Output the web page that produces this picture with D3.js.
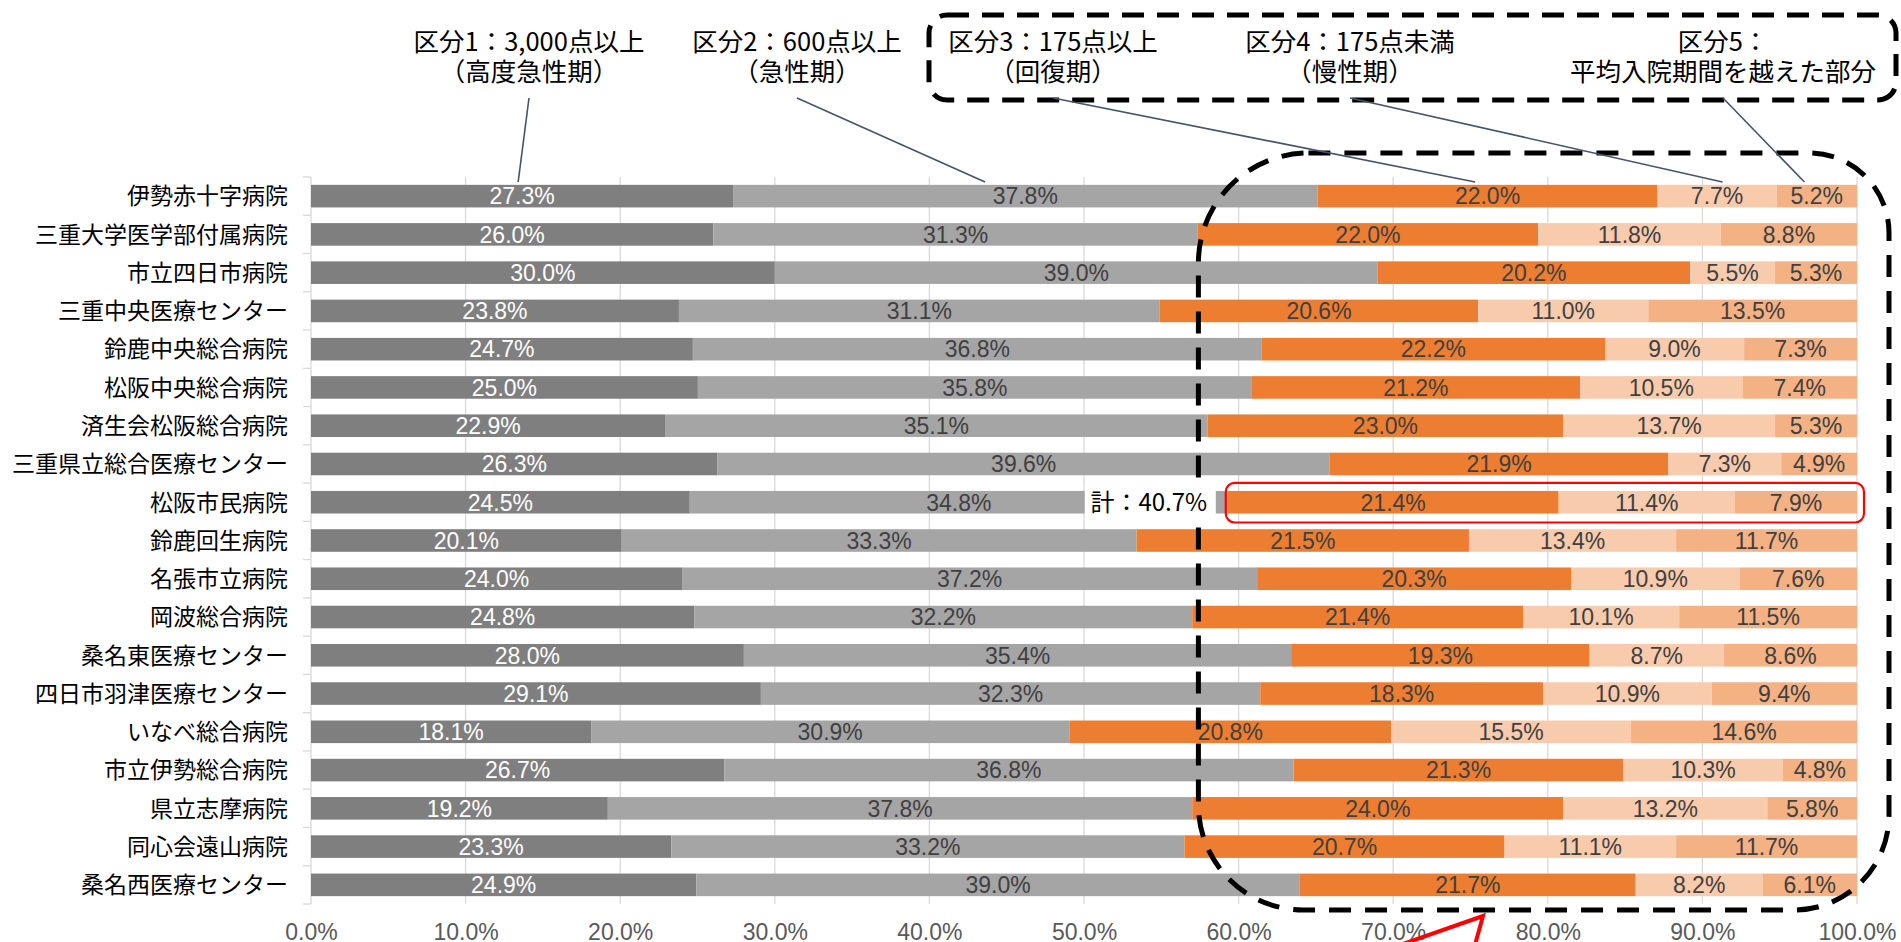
<!DOCTYPE html>
<html>
<head>
  <meta charset="utf-8">
  <title>病床機能別 患者構成</title>
  <script src="https://d3js.org/d3.v7.min.js"></script>
  <style>
    body { margin: 0; background: #fff; }
    .cjk { font-family: "Noto Sans CJK JP", sans-serif; }
    .num { font-family: "Liberation Sans", Arial, sans-serif; }
  </style>
</head>
<body>
  <svg width="1901" height="942" id="mainsvg"></svg>
  <script>
    // 病院名（上から順）
    const hospitals = [
      "伊勢赤十字病院", "三重大学医学部付属病院", "市立四日市病院", "三重中央医療センター",
      "鈴鹿中央総合病院", "松阪中央総合病院", "済生会松阪総合病院", "三重県立総合医療センター",
      "松阪市民病院", "鈴鹿回生病院", "名張市立病院", "岡波総合病院", "桑名東医療センター",
      "四日市羽津医療センター", "いなべ総合病院", "市立伊勢総合病院", "県立志摩病院",
      "同心会遠山病院", "桑名西医療センター"
    ];
    // 区分ごとの割合（%）
    const kubun1 = [27.3, 26.0, 30.0, 23.8, 24.7, 25.0, 22.9, 26.3, 24.5, 20.1, 24.0, 24.8, 28.0, 29.1, 18.1, 26.7, 19.2, 23.3, 24.9];
    const kubun2 = [37.8, 31.3, 39.0, 31.1, 36.8, 35.8, 35.1, 39.6, 34.8, 33.3, 37.2, 32.2, 35.4, 32.3, 30.9, 36.8, 37.8, 33.2, 39.0];
    const kubun3 = [22.0, 22.0, 20.2, 20.6, 22.2, 21.2, 23.0, 21.9, 21.4, 21.5, 20.3, 21.4, 19.3, 18.3, 20.8, 21.3, 24.0, 20.7, 21.7];
    const kubun4 = [7.7, 11.8, 5.5, 11.0, 9.0, 10.5, 13.7, 7.3, 11.4, 13.4, 10.9, 10.1, 8.7, 10.9, 15.5, 10.3, 13.2, 11.1, 8.2];
    const kubun5 = [5.2, 8.8, 5.3, 13.5, 7.3, 7.4, 5.3, 4.9, 7.9, 11.7, 7.6, 11.5, 8.6, 9.4, 14.6, 4.8, 5.8, 11.7, 6.1];

    // 凡例（吹き出し）の文言
    const legendLines = [
      ["区分1：3,000点以上", "（高度急性期）"],
      ["区分2：600点以上", "（急性期）"],
      ["区分3：175点以上", "（回復期）"],
      ["区分4：175点未満", "（慢性期）"],
      ["区分5：", "平均入院期間を越えた部分"]
    ];
    const legendX = [529, 797, 1053, 1350, 1723];      // 吹き出し文字の中心
    const leaderTarget = [0.134, 0.436, 0.753, 0.913, 0.966]; // 引き出し線の先（割合）

    const keys = ["k1", "k2", "k3", "k4", "k5"];
    const colors = ["#7f7f7f", "#a5a5a5", "#ed7d31", "#f8cbad", "#f4b183"];
    const highlightRow = "松阪市民病院";

    const table = hospitals.map((h, i) => ({
      name: h, k1: kubun1[i], k2: kubun2[i], k3: kubun3[i], k4: kubun4[i], k5: kubun5[i]
    }));

    let svg = d3.select('#mainsvg');

    const x = d3.scaleLinear().domain([0, 1]).range([311, 1857]);
    const y = d3.scaleBand().domain(hospitals).range([177, 904])
      .paddingInner(0.41).paddingOuter(0.205);

    const stack = d3.stack().keys(keys).offset(d3.stackOffsetExpand);
    const series = stack(table);

    // 目盛線
    svg.append('g').selectAll('line')
      .data(d3.range(1, 11).map(d => d / 10))
      .enter().append('line')
      .attr('x1', d => x(d)).attr('x2', d => x(d))
      .attr('y1', 177).attr('y2', 904)
      .attr('stroke', '#d9d9d9').attr('stroke-width', 1.3);

    // 縦軸と目盛
    const yAxis = svg.append('g');
    yAxis.append('line')
      .attr('x1', x(0)).attr('x2', x(0)).attr('y1', 177).attr('y2', 904)
      .attr('stroke', '#d9d9d9').attr('stroke-width', 1.3);
    yAxis.selectAll('line.tick')
      .data(d3.range(hospitals.length + 1))
      .enter().append('line').attr('class', 'tick')
      .attr('x1', x(0) - 8).attr('x2', x(0))
      .attr('y1', i => 177 + i * y.step()).attr('y2', i => 177 + i * y.step())
      .attr('stroke', '#d9d9d9').attr('stroke-width', 1.3);
    yAxis.selectAll('text')
      .data(hospitals)
      .enter().append('text').attr('class', 'cjk')
      .attr('x', 288)
      .attr('y', d => y(d) + y.bandwidth() / 2 + 23 * 0.36)
      .attr('text-anchor', 'end')
      .attr('font-size', 23)
      .attr('fill', '#000')
      .text(d => d);

    // 横軸ラベル
    const xAxis = svg.append('g')
      .attr('transform', 'translate(0,904)')
      .call(d3.axisBottom(x).tickValues(d3.range(0, 11).map(d => d / 10))
        .tickFormat(d3.format('.1%')).tickSize(0));
    xAxis.select('.domain').remove();
    xAxis.selectAll('text')
      .attr('class', 'num')
      .attr('y', 36).attr('dy', null)
      .attr('font-size', 23)
      .attr('fill', '#595959');

    // 積み上げ棒
    const groups = svg.append('g').selectAll('g')
      .data(series)
      .enter().append('g')
      .attr('fill', (d, i) => colors[i]);
    groups.selectAll('rect')
      .data(d => d)
      .enter().append('rect')
      .attr('x', d => x(d[0]))
      .attr('width', d => x(d[1]) - x(d[0]))
      .attr('y', d => y(d.data.name))
      .attr('height', y.bandwidth());

    // 数値ラベル
    series.forEach((s, si) => {
      svg.append('g').selectAll('text')
        .data(s)
        .enter().append('text').attr('class', 'num')
        .attr('x', d => (x(d[0]) + x(d[1])) / 2)
        .attr('y', d => y(d.data.name) + y.bandwidth() / 2 + 23 * 0.36)
        .attr('text-anchor', 'middle')
        .attr('font-size', 23)
        .attr('fill', si === 0 ? '#ffffff' : '#404040')
        .text(d => d.data[s.key].toFixed(1) + '%');
    });

    // 大きな点線の囲み（区分3〜5）
    function roundedPath(l, t, r, b, tl, tr, br, bl) {
      return `M${l + tl},${t} H${r - tr} A${tr},${tr} 0 0 1 ${r},${t + tr}` +
        ` V${b - br} A${br},${br} 0 0 1 ${r - br},${b}` +
        ` H${l + bl} A${bl},${bl} 0 0 1 ${l},${b - bl}` +
        ` V${t + tl} A${tl},${tl} 0 0 1 ${l + tl},${t} Z`;
    }
    svg.append('path')
      .attr('d', roundedPath(x(0.574), 153, 1889, 910, 110, 80, 95, 105))
      .attr('fill', 'none')
      .attr('stroke', '#000')
      .attr('stroke-width', 5)
      .attr('stroke-dasharray', '22,14');

    // 松阪市民病院の強調枠
    const hi = table.findIndex(d => d.name === highlightRow);
    const cum2 = series[1][hi][1];
    svg.append('rect')
      .attr('x', x(cum2) - 2)
      .attr('y', y(highlightRow) - 8)
      .attr('width', x(1) + 7 - (x(cum2) - 2))
      .attr('height', y.bandwidth() + 17)
      .attr('rx', 9)
      .attr('fill', 'none')
      .attr('stroke', '#ff0000')
      .attr('stroke-width', 2.2);

    // 計ラベル
    const total = kubun3[hi] + kubun4[hi] + kubun5[hi];
    svg.append('rect')
      .attr('x', x(cum2) - 143)
      .attr('y', y(highlightRow) - 6)
      .attr('width', 131)
      .attr('height', y.bandwidth() + 12)
      .attr('fill', '#fff');
    svg.append('text').attr('class', 'cjk')
      .attr('x', x(cum2) - 79)
      .attr('y', y(highlightRow) + y.bandwidth() / 2 + 24 * 0.36)
      .attr('text-anchor', 'middle')
      .attr('font-size', 24)
      .attr('fill', '#000')
      .text('計：' + total.toFixed(1) + '%');

    // 上部の点線枠（区分3〜5の凡例）
    svg.append('rect')
      .attr('x', 929).attr('y', 15)
      .attr('width', 1896 - 929).attr('height', 85)
      .attr('rx', 18)
      .attr('fill', 'none')
      .attr('stroke', '#000')
      .attr('stroke-width', 5)
      .attr('stroke-dasharray', '22,13');

    // 凡例テキスト
    legendLines.forEach((lines, i) => {
      lines.forEach((t, j) => {
        svg.append('text').attr('class', 'cjk')
          .attr('x', legendX[i])
          .attr('y', 42 + j * 30 + 25.5 * 0.36)
          .attr('text-anchor', 'middle')
          .attr('font-size', 25.5)
          .attr('fill', '#000')
          .text(t);
      });
    });

    // 引き出し線
    svg.append('g').selectAll('line')
      .data(leaderTarget)
      .enter().append('line')
      .attr('x1', (d, i) => legendX[i]).attr('y1', 98)
      .attr('x2', d => x(d)).attr('y2', 182)
      .attr('stroke', '#44546a')
      .attr('stroke-width', 1.6);

    // 下部の赤い吹き出し
    svg.append('path')
      .attr('d', 'M1380,952 L1483,916 L1473,952')
      .attr('fill', 'none')
      .attr('stroke', '#ff0000')
      .attr('stroke-width', 4)
      .attr('stroke-linejoin', 'miter');
  </script>
</body>
</html>
